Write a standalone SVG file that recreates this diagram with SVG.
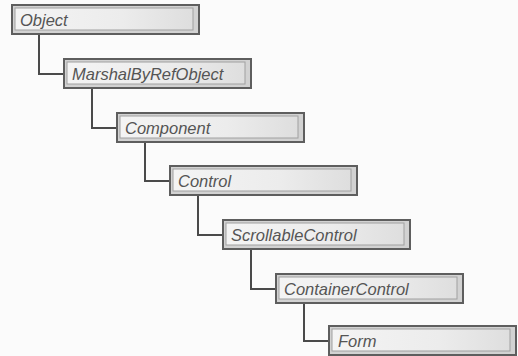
<svg xmlns="http://www.w3.org/2000/svg" width="518" height="356" viewBox="0 0 518 356">
<defs>
<linearGradient id="g" x1="0" y1="0" x2="1" y2="0">
<stop offset="0" stop-color="#f4f4f4"/>
<stop offset="0.6" stop-color="#ececec"/>
<stop offset="1" stop-color="#dedede"/>
</linearGradient>
<style>
.outer{fill:#d2d2d2;stroke:#5e5e5e;stroke-width:2}
.inner{fill:url(#g);stroke:#a0a0a0;stroke-width:1}
.lbl{font-family:"Liberation Sans",Arial,sans-serif;font-style:italic;font-size:16.5px;fill:#555555}
.conn{fill:none;stroke:#4a4a4a;stroke-width:2}
</style>
</defs>
<rect width="518" height="356" fill="#fbfbfb"/>
<g id="connectors">
<path class="conn" d="M39 35 V74 H64"/>
<path class="conn" d="M92 89 V128 H117"/>
<path class="conn" d="M145 143 V181 H170"/>
<path class="conn" d="M198 196 V235 H223"/>
<path class="conn" d="M251 250 V289 H276"/>
<path class="conn" d="M304 304 V341 H329"/>
</g>
<g id="n-object"><rect class="outer" x="12" y="5" width="187" height="29"/><rect class="inner" x="15" y="8" width="178" height="22"/><text class="lbl" x="20" y="26">Object</text></g>
<g id="n-marshal"><rect class="outer" x="64" y="59" width="187" height="29"/><rect class="inner" x="67" y="62" width="178" height="22"/><text class="lbl" x="72" y="80">MarshalByRefObject</text></g>
<g id="n-component"><rect class="outer" x="117" y="113" width="187" height="29"/><rect class="inner" x="120" y="116" width="178" height="22"/><text class="lbl" x="125" y="134">Component</text></g>
<g id="n-control"><rect class="outer" x="170" y="166" width="187" height="29"/><rect class="inner" x="173" y="169" width="178" height="22"/><text class="lbl" x="178" y="187">Control</text></g>
<g id="n-scrollable"><rect class="outer" x="223" y="220" width="187" height="29"/><rect class="inner" x="226" y="223" width="178" height="22"/><text class="lbl" x="231" y="241">ScrollableControl</text></g>
<g id="n-container"><rect class="outer" x="276" y="274" width="187" height="29"/><rect class="inner" x="279" y="277" width="178" height="22"/><text class="lbl" x="284" y="295">ContainerControl</text></g>
<g id="n-form"><rect class="outer" x="329" y="326" width="187" height="29"/><rect class="inner" x="332" y="329" width="178" height="22"/><text class="lbl" x="338" y="347">Form</text></g>
</svg>
